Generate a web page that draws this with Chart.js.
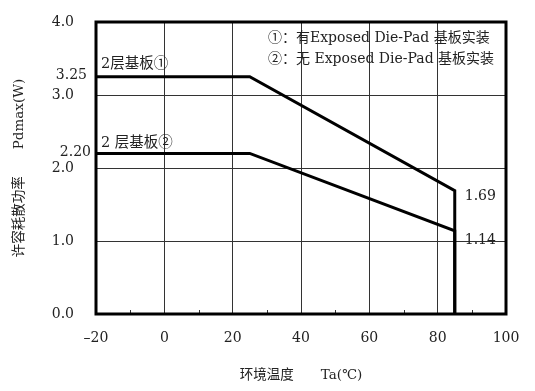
<!DOCTYPE html>
<html>
<head>
<meta charset="utf-8">
<script src="https://cdn.jsdelivr.net/npm/chart.js@4/dist/chart.umd.min.js"></script>
<style>
  html, body { margin: 0; padding: 0; background: #fff; }
  canvas { display: block; }
</style>
</head>
<body>
<canvas id="c" width="535" height="391"></canvas>
<script>
// ---- data ----
const tempBoard1 = [-20, 25, 85, 85];
const powerBoard1 = [3.25, 3.25, 1.69, 0];
const tempBoard2 = [-20, 25, 85, 85];
const powerBoard2 = [2.20, 2.20, 1.14, 0];
const seriesLabels = ['2层基板①', '2 层基板②'];
const noteLines = ['①：有Exposed Die-Pad 基板实装', '②：无 Exposed Die-Pad 基板实装'];
const startLabels = ['3.25', '2.20'];
const endLabels = ['1.69', '1.14'];
const xTickValues = [-20, 0, 20, 40, 60, 80, 100];
const yTickValues = [0, 1, 2, 3, 4];
const xMinorTicks = [-10, 10, 30, 50, 70, 90];
const xTitle = '环境温度　　Ta(℃)';
const yTitle = '许容耗散功率　　Pdmax(W)';

const FAMILY = '"DejaVu Serif", "Noto Sans CJK SC", serif';
const TXT = '#222';

const annot = {
  id: 'annot',
  afterDraw(chart) {
    const {ctx, chartArea: a, scales: {x, y}} = chart;
    ctx.save();
    // minor ticks on bottom edge
    ctx.strokeStyle = '#333';
    ctx.lineWidth = 1;
    xMinorTicks.forEach(v => {
      const px = Math.round(x.getPixelForValue(v)) + 0.5;
      ctx.beginPath();
      ctx.moveTo(px, a.bottom);
      ctx.lineTo(px, a.bottom - 4);
      ctx.stroke();
    });
    // thick frame
    ctx.strokeStyle = '#000';
    ctx.lineWidth = 3;
    ctx.strokeRect(a.left, a.top, a.right - a.left, a.bottom - a.top);

    ctx.fillStyle = TXT;
    ctx.textBaseline = 'middle';
    ctx.font = '14.5px ' + FAMILY;
    // series labels above the flat segments
    ctx.textAlign = 'left';
    ctx.fillText(seriesLabels[0], a.left + 5, y.getPixelForValue(powerBoard1[0]) - 13);
    ctx.fillText(seriesLabels[1], a.left + 5, y.getPixelForValue(powerBoard2[0]) - 10);
    // notes
    ctx.font = '14px ' + FAMILY;
    ctx.fillText(noteLines[0], 268, 38);
    ctx.fillText(noteLines[1], 268, 59);
    // start value labels (left of axis)
    ctx.textAlign = 'right';
    ctx.fillText(startLabels[0], a.left - 9, y.getPixelForValue(powerBoard1[0]) - 1);
    ctx.fillText(startLabels[1], a.left - 5, y.getPixelForValue(powerBoard2[0]) - 1);
    // end value labels
    ctx.textAlign = 'left';
    const ex = x.getPixelForValue(tempBoard1[2]) + 10;
    ctx.fillText(endLabels[0], ex, y.getPixelForValue(powerBoard1[2]) + 6);
    ctx.fillText(endLabels[1], ex, y.getPixelForValue(powerBoard2[2]) + 10);
    ctx.restore();
  }
};

const tickFont = {family: FAMILY, size: 14};
const titleFont = {family: FAMILY, size: 13.5};

new Chart(document.getElementById('c'), {
  type: 'scatter',
  data: {
    datasets: [
      {
        data: tempBoard1.map((t, i) => ({x: t, y: powerBoard1[i]})),
        showLine: true, borderColor: '#000', borderWidth: 3, pointRadius: 0,
        pointHoverRadius: 0, fill: false, tension: 0, clip: false, borderJoinStyle: 'miter'
      },
      {
        data: tempBoard2.map((t, i) => ({x: t, y: powerBoard2[i]})),
        showLine: true, borderColor: '#000', borderWidth: 3, pointRadius: 0,
        pointHoverRadius: 0, fill: false, tension: 0, clip: false, borderJoinStyle: 'miter'
      }
    ]
  },
  options: {
    responsive: false,
    animation: false,
    devicePixelRatio: 1,
    layout: {padding: {top: 22, right: 29, left: 0, bottom: 0}},
    plugins: {legend: {display: false}, tooltip: {enabled: false}},
    scales: {
      x: {
        type: 'linear', min: -20, max: 100,
        afterBuildTicks: s => { s.ticks = xTickValues.map(v => ({value: v})); },
        ticks: {
          padding: 16, font: tickFont, color: TXT, maxRotation: 0,
          callback: v => v < 0 ? '–' + Math.abs(v) : String(v)
        },
        grid: {color: '#333', lineWidth: 1, drawTicks: false},
        border: {display: false},
        title: {display: true, text: xTitle, font: titleFont, color: TXT, padding: {top: 0, bottom: 7}},
        afterFit: s => { s.height = 77; s.paddingLeft = 0; s.paddingRight = 0; }
      },
      y: {
        type: 'linear', min: 0, max: 4,
        afterBuildTicks: s => { s.ticks = yTickValues.map(v => ({value: v})); },
        ticks: {padding: 22, font: tickFont, color: TXT, callback: v => Number(v).toFixed(1)},
        grid: {color: '#333', lineWidth: 1, drawTicks: false},
        border: {display: false},
        title: {display: true, text: yTitle, font: titleFont, color: TXT, padding: {top: 11, bottom: 0}},
        afterFit: s => { s.width = 96; s.paddingTop = 0; s.paddingBottom = 0; }
      }
    }
  },
  plugins: [annot]
});
</script>
</body>
</html>
